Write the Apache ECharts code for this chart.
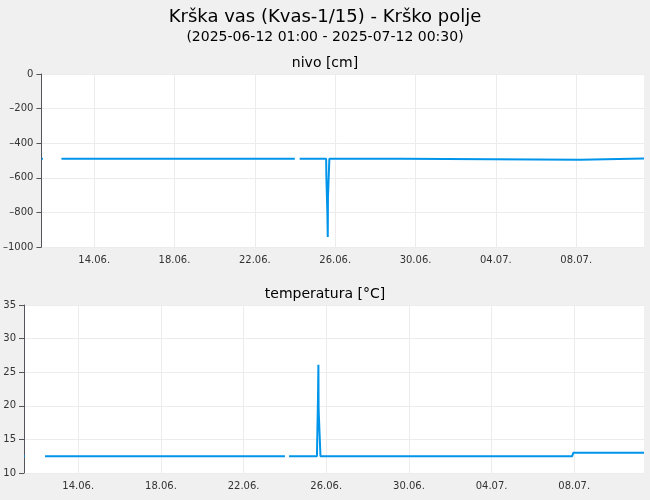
<!DOCTYPE html><html><head><meta charset="utf-8"><script src="https://cdn.jsdelivr.net/npm/echarts@6/dist/echarts.min.js"></script>
<style>html,body{margin:0;background:#f0f0f0}#c{width:650px;height:500px}</style></head><body><div id="c"></div><script>
// x values: day number relative to June (14 = 14.06., 34 = 04.07.)
const tickDays=[14,18,22,26,30,34,38];
const nivo=[[11.38,-490],[11.45,-490],[11.46,null],[12.37,-490],[23.99,-490],[24.0,null],[24.23,-490],[25.55,-490],[25.56,-590],[25.6,-590],[25.61,-800],[25.63,-942],[25.64,-711],[25.7,-711],[25.71,-490],[29.3,-490],[29.35,-495],[38.2,-495],[38.21,-488],[41.375,-488]];
const temp=[[11.38,12.5],[11.42,12.5],[11.43,null],[12.39,12.5],[24.0,12.5],[24.01,null],[24.2,12.5],[25.55,12.5],[25.56,14.5],[25.6,21],[25.62,26.1],[25.63,19.5],[25.7,19.5],[25.72,12.5],[37.9,12.5],[37.95,13.0],[41.375,13.0]];
function lab(v){const d=Math.round(v);const dd=d>30?d-30:d;const mm=d>30?'07':'06';return String(dd).padStart(2,'0')+'.'+mm+'.';}
function xa(gi){return {type:'value',gridIndex:gi,min:11.375,max:41.375,axisLine:{show:false},axisTick:{show:false,customValues:tickDays},
 axisLabel:{customValues:tickDays,formatter:lab,fontSize:10,color:'#333',fontFamily:'DejaVu Sans'},splitLine:{show:true,lineStyle:{color:'#ececec'}}};}
const c=echarts.init(document.getElementById('c'));
c.setOption({backgroundColor:'#f0f0f0',animation:false,
title:[{text:'Krška vas (Kvas-1/15) - Krško polje',left:'center',top:3,textStyle:{fontSize:18,fontWeight:'normal',color:'#000',fontFamily:'DejaVu Sans'}},
{text:'(2025-06-12 01:00 - 2025-07-12 00:30)',left:'center',top:25,textStyle:{fontSize:14,fontWeight:'normal',color:'#000',fontFamily:'DejaVu Sans'}},
{text:'nivo [cm]',left:'center',top:51,textStyle:{fontSize:14,fontWeight:'normal',color:'#000',fontFamily:'DejaVu Sans'}},
{text:'temperatura [°C]',left:'center',top:282,textStyle:{fontSize:14,fontWeight:'normal',color:'#000',fontFamily:'DejaVu Sans'}}],
grid:[{left:40,right:6,top:74,height:173,show:true,backgroundColor:'#fff',borderWidth:0},{left:24,right:6,top:305,height:168,show:true,backgroundColor:'#fff',borderWidth:0}],
xAxis:[xa(0),xa(1)],
yAxis:[{type:'value',gridIndex:0,min:-1000,max:0,interval:200,axisLabel:{fontSize:10,color:'#333',fontFamily:'DejaVu Sans',formatter:v=>String(v).replace('-','−').replace('−','–')},splitLine:{lineStyle:{color:'#ececec'}}},
{type:'value',gridIndex:1,min:10,max:35,interval:5,axisLabel:{fontSize:10,color:'#333',fontFamily:'DejaVu Sans'},splitLine:{lineStyle:{color:'#ececec'}}}],
series:[{type:'line',xAxisIndex:0,yAxisIndex:0,data:nivo,showSymbol:false,connectNulls:false,lineStyle:{color:'#0095ea',width:2},itemStyle:{color:'#0095ea'}},
{type:'line',xAxisIndex:1,yAxisIndex:1,data:temp,showSymbol:false,connectNulls:false,lineStyle:{color:'#0095ea',width:2},itemStyle:{color:'#0095ea'}}]});
</script></body></html>
